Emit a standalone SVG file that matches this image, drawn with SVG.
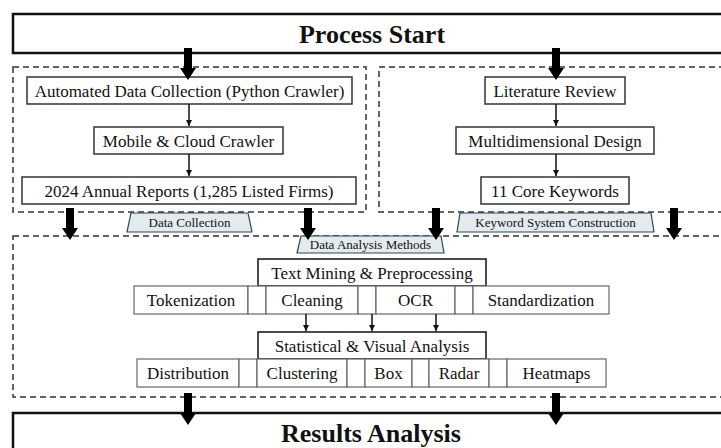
<svg xmlns="http://www.w3.org/2000/svg" xmlns:xlink="http://www.w3.org/1999/xlink" width="721" height="448" viewBox="0 0 721 448">
<style>
text{font-family:"Liberation Serif","Times New Roman",serif;fill:#111;text-anchor:middle}
.title{font-size:26px;font-weight:bold}
.t17{font-size:17px}
.t13{font-size:13px}
.main{fill:#fff;stroke:#111;stroke-width:2.5}
.dash{fill:none;stroke:#333;stroke-width:1.5;stroke-dasharray:6 4}
.node{fill:#fff;stroke:#333;stroke-width:1.5}
.cell{fill:#fff;stroke:#666;stroke-width:1.2}
.tab{fill:#e4ebef;stroke:#2e4453;stroke-width:1.2}
.thin{stroke:#111;stroke-width:1.5;fill:none;marker-end:url(#ah)}
.big{fill:#000}
</style>
<defs>
<marker id="ah" markerWidth="8" markerHeight="8" refX="6" refY="3" orient="auto" markerUnits="userSpaceOnUse">
<path d="M0,0 L6,3 L0,6 Z" fill="#111"/>
</marker>
<path id="bigArrow" d="M-4,0 H4 V20 H8 L0,32 L-8,20 H-4 Z"/>
</defs>

<g id="dashed-groups">
<rect class="dash" x="13" y="67" width="353" height="145"/>
<rect class="dash" x="379" y="67" width="360" height="145"/>
<rect class="dash" x="13" y="236" width="726" height="161"/>
</g>

<g id="process-start">
<rect class="main" x="13" y="14" width="730" height="39"/>
<text class="title" x="372" y="43">Process Start</text>
</g>

<g id="results-analysis">
<rect class="main" x="13" y="413" width="730" height="60"/>
<text class="title" x="371" y="442">Results Analysis</text>
</g>

<g id="automated">
<rect class="node" x="27" y="77" width="325" height="27"/>
<text class="t17" x="189.5" y="96.5">Automated Data Collection (Python Crawler)</text>
</g>
<g id="mobile">
<rect class="node" x="94" y="127" width="189" height="27"/>
<text class="t17" x="188.5" y="146.5">Mobile &amp; Cloud Crawler</text>
</g>
<g id="annual">
<rect class="node" x="22" y="177" width="334" height="27"/>
<text class="t17" x="189" y="196.5">2024 Annual Reports (1,285 Listed Firms)</text>
</g>

<g id="literature">
<rect class="node" x="485" y="77" width="140" height="27"/>
<text class="t17" x="555" y="96.5">Literature Review</text>
</g>
<g id="multidim">
<rect class="node" x="456" y="127" width="198" height="27"/>
<text class="t17" x="555" y="146.5">Multidimensional Design</text>
</g>
<g id="keywords">
<rect class="node" x="481" y="177" width="148" height="27"/>
<text class="t17" x="555" y="196.5">11 Core Keywords</text>
</g>

<g id="label-data-collection">
<polygon class="tab" points="131,213 248,213 252,232 127,232"/>
<text class="t13" x="189.5" y="227">Data Collection</text>
</g>
<g id="label-keyword">
<polygon class="tab" points="460,213 651,213 654,232 457,232"/>
<text class="t13" x="555.5" y="227">Keyword System Construction</text>
</g>
<g id="label-analysis">
<polygon class="tab" points="301,236 441,236 444,253 297,253"/>
<text class="t13" x="370.5" y="249">Data Analysis Methods</text>
</g>

<g id="text-mining">
<rect class="node" x="258" y="259" width="228" height="27" style="stroke:#111"/>
<text class="t17" x="372" y="278.5">Text Mining &amp; Preprocessing</text>
</g>
<g id="tm-cells">
<rect class="cell" x="134" y="286" width="114" height="28"/>
<text class="t17" x="191" y="305.5">Tokenization</text>
<rect class="cell" x="248" y="286" width="18" height="28"/>
<rect class="cell" x="266" y="286" width="92" height="28"/>
<text class="t17" x="312" y="305.5">Cleaning</text>
<rect class="cell" x="358" y="286" width="18" height="28"/>
<rect class="cell" x="376" y="286" width="79" height="28"/>
<text class="t17" x="415.5" y="305.5">OCR</text>
<rect class="cell" x="455" y="286" width="18" height="28"/>
<rect class="cell" x="473" y="286" width="136" height="28"/>
<text class="t17" x="541" y="305.5">Standardization</text>
</g>

<g id="statistical">
<rect class="node" x="258" y="332" width="228" height="27" style="stroke:#111"/>
<text class="t17" x="372" y="351.5">Statistical &amp; Visual Analysis</text>
</g>
<g id="sv-cells">
<rect class="cell" x="137" y="359" width="102" height="28"/>
<text class="t17" x="188" y="378.5">Distribution</text>
<rect class="cell" x="239" y="359" width="18" height="28"/>
<rect class="cell" x="257" y="359" width="90" height="28"/>
<text class="t17" x="302" y="378.5">Clustering</text>
<rect class="cell" x="347" y="359" width="18" height="28"/>
<rect class="cell" x="365" y="359" width="47" height="28"/>
<text class="t17" x="388.5" y="378.5">Box</text>
<rect class="cell" x="412" y="359" width="17" height="28"/>
<rect class="cell" x="429" y="359" width="60" height="28"/>
<text class="t17" x="459" y="378.5">Radar</text>
<rect class="cell" x="489" y="359" width="18" height="28"/>
<rect class="cell" x="507" y="359" width="99" height="28"/>
<text class="t17" x="556.5" y="378.5">Heatmaps</text>
</g>

<g id="connectors">
<use href="#bigArrow" class="big" x="188" y="48"/>
<use href="#bigArrow" class="big" x="556" y="48"/>
<use href="#bigArrow" class="big" x="70" y="208"/>
<use href="#bigArrow" class="big" x="308" y="208"/>
<use href="#bigArrow" class="big" x="436" y="208"/>
<use href="#bigArrow" class="big" x="674" y="208"/>
<use href="#bigArrow" class="big" x="188" y="393"/>
<use href="#bigArrow" class="big" x="556" y="393"/>
<line class="thin" x1="189" y1="104" x2="189" y2="126"/>
<line class="thin" x1="189" y1="154" x2="189" y2="176"/>
<line class="thin" x1="556" y1="104" x2="556" y2="126"/>
<line class="thin" x1="556" y1="154" x2="556" y2="176"/>
<line class="thin" x1="306" y1="314" x2="306" y2="331"/>
<line class="thin" x1="372" y1="314" x2="372" y2="331"/>
<line class="thin" x1="436" y1="314" x2="436" y2="331"/>
</g>
</svg>
